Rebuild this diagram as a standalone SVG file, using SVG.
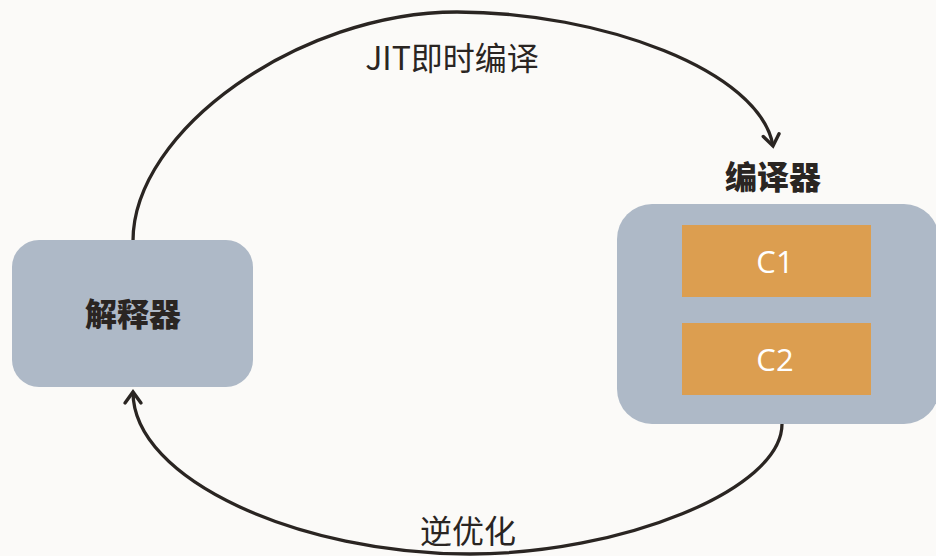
<svg xmlns="http://www.w3.org/2000/svg" width="936" height="556" viewBox="0 0 936 556">
<style>
.box{fill:#aeb9c7}
.core{fill:#dc9e50}
.lbl{font-family:"Noto Sans CJK SC","Noto Sans",sans-serif;fill:#2a2522;text-anchor:middle}
.b{font-weight:900;font-size:32px}
.n{font-weight:400;font-size:32px}
.w{font-family:"Open Sans","Noto Sans",sans-serif;fill:#ffffff;font-size:31px;text-anchor:middle}
.edge{fill:none;stroke:#2a2522;stroke-width:3.3}
</style>
<defs>
<marker id="arr" markerUnits="userSpaceOnUse" markerWidth="30" markerHeight="30" refX="15" refY="15" orient="auto" viewBox="0 0 30 30" overflow="visible">
<path d="M4,7 L15,15 L4,23" fill="none" stroke="#2a2522" stroke-width="3.4" stroke-linecap="round" stroke-linejoin="miter"/>
</marker>
</defs>
<rect width="936" height="556" fill="#fbfaf8"/>
<g id="connectors">
<path class="edge" d="M133,241 C133,130 300,12 457,12 C600,12 760,70 773,146" marker-end="url(#arr)"/>
<path class="edge" d="M782,424 C782,490 620,554 470,554 C300,554 133,480 133,392" marker-end="url(#arr)"/>
<text class="lbl n" x="452" y="70">JIT即时编译</text>
<text class="lbl n" x="468" y="543">逆优化</text>
</g>
<g id="interpreter">
<rect class="box" x="12" y="240" width="241" height="147" rx="27"/>
<text class="lbl b" x="133" y="326">解释器</text>
</g>
<g id="compiler">
<text class="lbl b" x="773" y="189">编译器</text>
<rect class="box" x="617" y="204" width="322" height="220" rx="35"/>
<g id="c1">
<rect class="core" x="682" y="225" width="189" height="72"/>
<text class="w" x="775" y="273">C1</text>
</g>
<g id="c2">
<rect class="core" x="682" y="323" width="189" height="72"/>
<text class="w" x="775" y="371">C2</text>
</g>
</g>
</svg>
